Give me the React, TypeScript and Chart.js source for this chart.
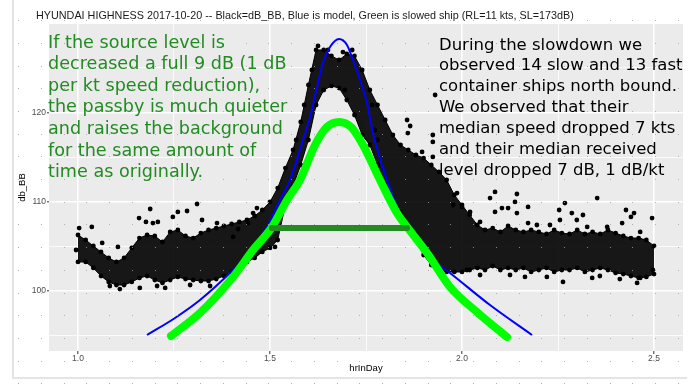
import React, { useEffect, useRef } from 'react';
import { Chart, registerables } from 'chart.js';

Chart.register(...registerables);

// ---- data ----
const coreX = [1.00, 1.02, 1.04, 1.06, 1.08, 1.10, 1.12, 1.14, 1.16, 1.18, 1.20, 1.22, 1.24, 1.26, 1.28, 1.30, 1.32, 1.34, 1.36, 1.38, 1.40, 1.42, 1.44, 1.46, 1.48, 1.50, 1.52, 1.54, 1.56, 1.58, 1.60, 1.62, 1.64, 1.66, 1.68, 1.70, 1.72, 1.74, 1.76, 1.78, 1.80, 1.82, 1.84, 1.86, 1.88, 1.90, 1.92, 1.94, 1.96, 1.98, 2.00, 2.02, 2.04, 2.06, 2.08, 2.10, 2.12, 2.14, 2.16, 2.18, 2.20, 2.22, 2.24, 2.26, 2.28, 2.30, 2.32, 2.34, 2.36, 2.38, 2.40, 2.42, 2.44, 2.46, 2.48, 2.50];
const coreHi = [106.27, 105.71, 105.04, 104.37, 103.70, 103.25, 103.70, 104.82, 105.93, 106.27, 106.16, 105.49, 106.61, 106.83, 106.16, 105.93, 106.49, 106.83, 107.05, 107.28, 107.50, 107.73, 107.95, 108.40, 109.07, 109.97, 111.53, 113.77, 115.79, 118.93, 123.07, 126.99, 126.99, 126.32, 125.87, 126.54, 126.32, 124.75, 122.51, 120.83, 119.15, 117.47, 116.35, 115.79, 115.23, 114.89, 114.11, 113.33, 112.43, 110.75, 109.63, 108.51, 107.39, 106.83, 107.05, 106.61, 107.28, 106.83, 106.61, 106.83, 106.61, 106.38, 106.83, 106.49, 106.38, 106.83, 106.38, 106.61, 106.38, 106.83, 106.49, 106.16, 105.93, 105.93, 105.71, 105.04];
const coreLo = [103.25, 103.25, 102.58, 101.68, 101.01, 100.67, 100.67, 101.01, 101.46, 101.68, 101.23, 100.90, 101.23, 101.57, 101.34, 101.23, 101.12, 101.12, 101.34, 101.68, 102.13, 102.58, 103.25, 103.70, 104.37, 104.82, 105.71, 109.63, 111.76, 114.11, 116.91, 120.83, 122.51, 122.96, 122.73, 121.39, 119.71, 117.47, 116.35, 114.11, 111.98, 110.41, 108.85, 107.28, 105.71, 104.03, 102.91, 102.35, 102.13, 102.13, 102.13, 102.35, 102.58, 102.35, 102.80, 102.35, 102.58, 102.35, 102.58, 102.13, 102.35, 102.58, 102.13, 102.35, 102.35, 102.58, 102.13, 102.35, 102.58, 102.35, 102.02, 101.90, 101.68, 101.46, 101.57, 101.90];

const outX = [1.003, 1.036, 0.995, 1.063, 1.104, 1.159, 1.188, 1.177, 1.195, 1.208, 1.310, 1.260, 1.284, 1.247, 1.323, 1.362, 1.206, 1.161, 1.109, 1.083, 1.227, 1.292, 1.344, 1.404, 1.456, 1.466, 1.443, 1.417, 1.513, 1.495, 1.568, 1.589, 1.609, 1.625, 1.651, 1.690, 1.714, 1.695, 1.766, 1.773, 1.779, 1.857, 1.865, 1.859, 1.930, 1.924, 1.924, 1.896, 1.924, 1.987, 1.977, 2.000, 2.086, 2.073, 2.143, 2.138, 2.104, 2.120, 2.086, 2.172, 2.143, 2.268, 2.253, 2.286, 2.352, 2.315, 2.427, 2.448, 2.440, 2.495, 2.195, 2.172, 2.229, 2.255, 2.299, 2.326, 2.378, 2.417, 2.464, 2.047, 2.021, 2.047, 2.263, 2.339, 2.456, 2.464, 2.497, 2.221, 2.125, 2.013, 2.164, 2.359, 2.411];
const outY = [107.05, 107.17, 104.59, 105.38, 104.93, 108.17, 109.18, 107.73, 107.61, 107.73, 109.74, 108.85, 108.96, 108.29, 107.95, 107.61, 100.56, 100.34, 100.22, 100.56, 100.34, 100.67, 100.56, 106.05, 108.73, 109.29, 107.61, 106.94, 104.93, 106.61, 116.91, 120.83, 124.75, 127.44, 126.99, 126.76, 126.99, 122.51, 120.83, 118.03, 116.91, 119.15, 118.48, 117.69, 121.95, 117.47, 116.69, 115.57, 115.01, 110.97, 109.63, 109.41, 111.09, 110.41, 110.86, 109.97, 109.29, 109.29, 108.85, 109.41, 108.73, 109.85, 109.07, 108.73, 110.41, 108.51, 109.07, 108.73, 108.29, 108.17, 107.39, 107.61, 107.39, 107.95, 107.95, 107.17, 107.17, 107.61, 106.61, 107.73, 108.85, 101.79, 101.01, 101.46, 100.90, 101.46, 102.35, 101.57, 101.79, 102.35, 101.57, 101.68, 101.34];

const blueX = [1.1797, 1.2526, 1.3177, 1.4036, 1.4479, 1.4922, 1.5260, 1.5521, 1.5859, 1.6042, 1.6224, 1.6380, 1.6563, 1.6797, 1.7005, 1.7161, 1.7344, 1.7526, 1.7682, 1.8047, 1.8385, 1.8828, 1.9245, 1.9688, 2.0729, 2.1823];
const blueY = [95.07, 96.98, 98.99, 102.35, 104.37, 107.17, 110.19, 112.43, 116.91, 119.48, 122.84, 125.53, 127.32, 128.22, 127.55, 125.87, 123.63, 121.05, 117.69, 112.43, 108.73, 105.38, 103.47, 102.02, 98.43, 95.07];

const greenX = [1.2422, 1.3177, 1.4036, 1.4557, 1.5052, 1.5443, 1.5781, 1.6172, 1.6484, 1.6797, 1.7109, 1.7422, 1.7865, 1.8307, 1.8568, 1.9089, 1.9688, 2.0417, 2.1172];
const greenY = [94.96, 97.54, 101.57, 104.59, 107.17, 110.19, 112.43, 116.35, 118.37, 118.93, 118.37, 116.35, 112.43, 108.73, 107.17, 104.26, 100.45, 97.54, 94.85];

const segX = [1.505, 1.857];
const segY = [107.05, 107.05];

const xLimits = [0.9245, 2.5755];
const yLimits = [93.28, 129.9];

const titleText = 'HYUNDAI HIGHNESS 2017-10-20 -- Black=dB_BB, Blue is model, Green is slowed ship (RL=11 kts, SL=173dB)';
const xTitle = 'hrInDay';
const yTitle = 'db_BB';
const greenNote = [
  'If the source level is',
  'decreased a full 9 dB (1 dB',
  'per kt speed reduction),',
  'the passby is much quieter',
  'and raises the background',
  'for the same amount of',
  'time as originally.',
];
const blackNote = [
  'During the slowdown we',
  'observed 14 slow and 13 fast',
  'container ships north bound.',
  'We observed that their',
  'median speed dropped 7 kts',
  'and their median received',
  'level dropped 7 dB, 1 dB/kt',
];
const greenAnchor = { x: 0.922, y: 127.25 };
const blackAnchor = { x: 1.940, y: 127.04 };

const zip = (xs: number[], ys: number[]) => xs.map((x, i) => ({ x, y: ys[i] }));

const decorPlugin = {
  id: 'decor',
  beforeDraw(chart: any) {
    const { ctx, chartArea } = chart;
    const { left, top, right, bottom } = chartArea;
    ctx.save();
    ctx.fillStyle = '#FFFFFF';
    ctx.fillRect(0, 0, chart.width, chart.height);
    ctx.fillStyle = '#EBEBEB';
    ctx.fillRect(left, top, right - left, bottom - top);
    ctx.strokeStyle = '#E4E4E4';
    ctx.lineWidth = 2;
    ctx.beginPath();
    ctx.moveTo(13, 0);
    ctx.lineTo(13, 378);
    ctx.lineTo(687, 378);
    ctx.stroke();
    ctx.restore();
  },
  afterDraw(chart: any) {
    const { ctx, scales } = chart;
    const xs = scales.x;
    const ys = scales.y;
    ctx.save();
    ctx.textBaseline = 'alphabetic';
    ctx.textAlign = 'left';
    ctx.fillStyle = '#1A1A1A';
    ctx.font = '10.8px "Liberation Sans", Arial, sans-serif';
    ctx.fillText(titleText, 36, 18.5);

    ctx.font = '17.6px "DejaVu Sans"';
    ctx.fillStyle = '#228B22';
    const gx = xs.getPixelForValue(greenAnchor.x);
    const gy = ys.getPixelForValue(greenAnchor.y);
    greenNote.forEach((t, i) => ctx.fillText(t, gx, gy + i * 21.6));

    ctx.font = '16.5px "DejaVu Sans"';
    ctx.fillStyle = '#000000';
    const bx = xs.getPixelForValue(blackAnchor.x);
    const by = ys.getPixelForValue(blackAnchor.y);
    blackNote.forEach((t, i) => ctx.fillText(t, bx, by + i * 20.9));

    ctx.fillStyle = 'rgba(160,160,160,0.8)';
    for (let px = 18; px < chart.width; px += 22.75) {
      for (let py = 20.2; py < chart.height; py += 22.7) {
        ctx.fillRect(Math.round(px), Math.round(py), 1, 1);
      }
    }
    ctx.restore();
  },
};

export default function App() {
  const ref = useRef<HTMLCanvasElement | null>(null);
  useEffect(() => {
    if (!ref.current) return;
    const isMajorX = (v: number) => Math.abs(v * 2 - Math.round(v * 2)) < 1e-6;
    const isMajorY = (v: number) => Math.abs(v / 10 - Math.round(v / 10)) < 1e-6;
    const chart = new Chart(ref.current, {
      type: 'line',
      data: {
        datasets: [
          {
            data: zip(coreX, coreHi),
            borderColor: '#000000',
            borderWidth: 1,
            backgroundColor: 'rgba(0,0,0,0.9)',
            pointRadius: 2.4,
            pointBackgroundColor: '#000000',
            pointBorderWidth: 0,
            fill: '+1',
            tension: 0,
            order: 10,
          },
          {
            data: zip(coreX, coreLo),
            borderColor: '#000000',
            borderWidth: 1,
            pointRadius: 2.4,
            pointBackgroundColor: '#000000',
            pointBorderWidth: 0,
            fill: false,
            tension: 0,
            order: 10,
          },
          {
            data: zip(outX, outY),
            showLine: false,
            pointRadius: 2.4,
            pointBackgroundColor: '#000000',
            pointBorderWidth: 0,
            borderColor: '#000000',
            fill: false,
            order: 9,
          },
          {
            data: zip(blueX, blueY),
            borderColor: '#0000FF',
            borderWidth: 2,
            pointRadius: 0,
            fill: false,
            cubicInterpolationMode: 'monotone',
            order: 3,
          },
          {
            data: zip(greenX, greenY),
            borderColor: '#00FF00',
            borderWidth: 8,
            borderCapStyle: 'round',
            borderJoinStyle: 'round',
            pointRadius: 0,
            fill: false,
            cubicInterpolationMode: 'monotone',
            order: 2,
          },
          {
            data: zip(segX, segY),
            borderColor: '#228B22',
            borderWidth: 6,
            borderCapStyle: 'round',
            pointRadius: 0,
            fill: false,
            order: 1,
          },
        ],
      },
      options: {
        responsive: false,
        animation: false,
        devicePixelRatio: 1,
        layout: { padding: { left: 0, top: 24, right: 15, bottom: 0 } },
        plugins: {
          legend: { display: false },
          tooltip: { enabled: false },
          title: { display: false },
        },
        scales: {
          x: {
            type: 'linear',
            min: xLimits[0],
            max: xLimits[1],
            afterFit: (s: any) => { s.height = 36; },
            border: { display: false },
            grid: {
              color: '#FFFFFF',
              lineWidth: (c: any) => (c.tick && isMajorX(c.tick.value) ? 1.6 : 0.8),
              tickLength: 3,
              tickColor: (c: any) => (c.tick && isMajorX(c.tick.value) ? '#333333' : 'rgba(0,0,0,0)'),
              tickWidth: 1,
            },
            ticks: {
              stepSize: 0.25,
              includeBounds: false,
              autoSkip: false,
              maxRotation: 0,
              padding: 0,
              color: '#4D4D4D',
              font: { size: 8.5, family: '"Liberation Sans", Arial, sans-serif' },
              callback: (v: any) => (isMajorX(Number(v)) ? Number(v).toFixed(1) : ''),
            },
            title: {
              display: true,
              text: xTitle,
              color: '#000000',
              font: { size: 9.5, family: '"Liberation Sans", Arial, sans-serif' },
              padding: { top: 0, bottom: 13 },
            },
          },
          y: {
            type: 'linear',
            min: yLimits[0],
            max: yLimits[1],
            afterFit: (s: any) => { s.width = 49; },
            border: { display: false },
            grid: {
              color: '#FFFFFF',
              lineWidth: (c: any) => (c.tick && isMajorY(c.tick.value) ? 1.6 : 0.8),
              tickLength: 2,
              tickColor: (c: any) => (c.tick && isMajorY(c.tick.value) ? '#333333' : 'rgba(0,0,0,0)'),
              tickWidth: 1,
            },
            ticks: {
              stepSize: 5,
              includeBounds: false,
              autoSkip: false,
              padding: 1,
              color: '#4D4D4D',
              font: { size: 8.5, family: '"Liberation Sans", Arial, sans-serif' },
              callback: (v: any) => (isMajorY(Number(v)) ? String(Math.round(Number(v))) : ''),
            },
            title: {
              display: true,
              text: yTitle,
              color: '#000000',
              font: { size: 9.5, family: '"Liberation Sans", Arial, sans-serif' },
              padding: { top: 17, bottom: 0 },
            },
          },
        },
      } as any,
      plugins: [decorPlugin],
    });
    return () => chart.destroy();
  }, []);

  return (
    <div style={{ position: 'absolute', left: 0, top: 0, width: 698, height: 387 }}>
      <canvas ref={ref} width={698} height={387} style={{ width: 698, height: 387, display: 'block' }} />
    </div>
  );
}
